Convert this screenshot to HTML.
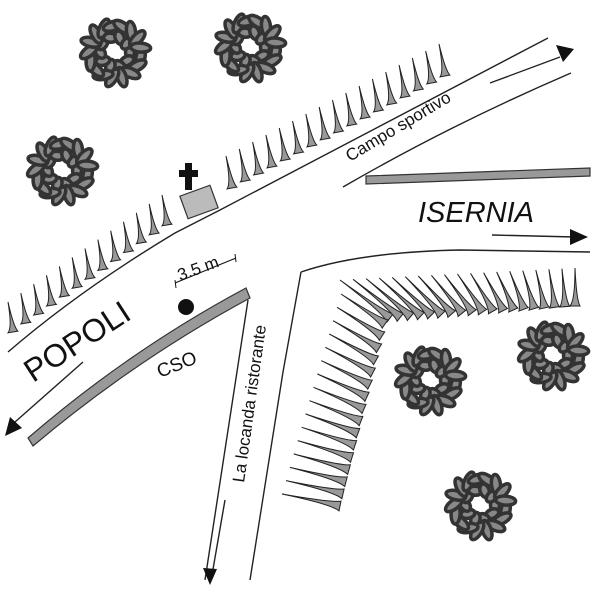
<!DOCTYPE html>
<html><head><meta charset="utf-8"><style>body{margin:0;background:#fff}svg{display:block}text{font-family:"Liberation Sans",sans-serif;fill:#111}</style></head>
<body>
<svg id="s" width="600" height="600" viewBox="0 0 600 600" xmlns="http://www.w3.org/2000/svg">
<g fill="none" stroke="#222" stroke-width="1.4">
<path d="M8,352 Q80,290 175,233 L220,210 L548,38"/>
<path d="M343,187 Q450,125 571,73"/>
<path d="M248,300 L205,580"/>
<path d="M301,272 L283,372 L250,580"/>
<path d="M301,272 Q360,252 460,250 L590,252"/>
<path d="M83,362 L15,422"/>
<path d="M225,500 L212,575"/>
<path d="M490,83 L560,57"/>
<path d="M492,235 L575,237"/>
</g>
<g fill="#111">
<polygon points="5,436 10,417 22,428"/>
<polygon points="210,585 203,568 217,569"/>
<polygon points="574,49 556,45 563,62"/>
<polygon points="588,237 570,229 570,245"/>
</g>
<path d="M28,438 Q130,350 246,288 L250,298 Q135,360 33,446 Z" fill="#999" stroke="#333" stroke-width="1.2"/>
<polygon points="366,176 590,168 590,176 366,184" fill="#999" stroke="#333" stroke-width="1.2"/>
<circle cx="186" cy="307" r="8" fill="#111"/>
<rect x="183" y="190" width="32" height="24" fill="#bbb" stroke="#333" stroke-width="1.2" transform="rotate(-20 199 202)"/>
<path d="M179,170 L185,170 L185,163 L192,163 L192,170 L198,170 L198,177 L192,177 L192,190 L185,190 L185,177 L179,177 Z" fill="#111"/>
<g stroke="#111" stroke-width="1" fill="none"><path d="M175,283 L236,258"/><path d="M175,280 L176,288 M235,254 L236,262"/></g>
<g id="sp"></g>
<g id="tr"></g>
<text transform="translate(350,162) rotate(-31)" font-size="17">Campo sportivo</text>
<text x="418" y="222" font-size="29" font-style="italic">ISERNIA</text>
<text transform="translate(33,383) rotate(-33)" font-size="32">POPOLI</text>
<text transform="translate(160,378) rotate(-22)" font-size="19">CSO</text>
<text transform="translate(244,483) rotate(-82)" font-size="17">La locanda ristorante</text>
<text transform="translate(180,281) rotate(-20)" font-size="17">3.5 m</text>
</svg>
<script>
var ns="http://www.w3.org/2000/svg",sp=document.getElementById("sp"),tr=document.getElementById("tr");
function spike(bx,by,dx,dy,w){var L=Math.hypot(dx,dy),nx=-dy/L*w,ny=dx/L*w;var p=document.createElementNS(ns,"path");
p.setAttribute("d","M"+(bx-nx)+","+(by-ny)+" Q"+(bx+dx*0.15)+","+(by+dy*0.15)+" "+(bx+dx)+","+(by+dy)+" Q"+(bx+dx*0.15+nx*0.3)+","+(by+dy*0.15+ny*0.3)+" "+(bx+nx)+","+(by+ny)+"Z");
p.setAttribute("fill","#999");p.setAttribute("stroke","#222");p.setAttribute("stroke-width","1");sp.appendChild(p);}
function row(x0,y0,x1,y1,n,f){for(var i=0;i<n;i++){var t=i/(n-1);var d=f(t);spike(x0+(x1-x0)*t,y0+(y1-y0)*t,d[0],d[1],5);}}
row(232,188,445,76,17,function(t){return[-6,-32];});
row(13,332,167,225,13,function(t){return[-5,-30];});
row(390,318,575,306,19,function(t){return[-50*(1-t),-38];});
row(385,324,340,506,16,function(t){return[-44-14*t,-30+18*t];});
function tree(cx,cy){for(var k=0;k<2;k++){var r=k?26:15,n=k?17:10;for(var i=0;i<n;i++){var a=i/n*6.283+k*0.2,x=cx+r*Math.cos(a),y=cy+r*Math.sin(a);
var p=document.createElementNS(ns,"ellipse");p.setAttribute("cx",x);p.setAttribute("cy",y);p.setAttribute("rx",k?10:7);p.setAttribute("ry",4.5);
p.setAttribute("transform","rotate("+(a*57.3+90+i*29)+" "+x+" "+y+")");p.setAttribute("fill","#888");p.setAttribute("stroke","#333");p.setAttribute("stroke-width","3.5");tr.appendChild(p);}}}
[[115,52],[250,47],[62,170],[430,380],[553,355],[480,505]].forEach(function(c){tree(c[0],c[1]);});
</script>
</body></html>
